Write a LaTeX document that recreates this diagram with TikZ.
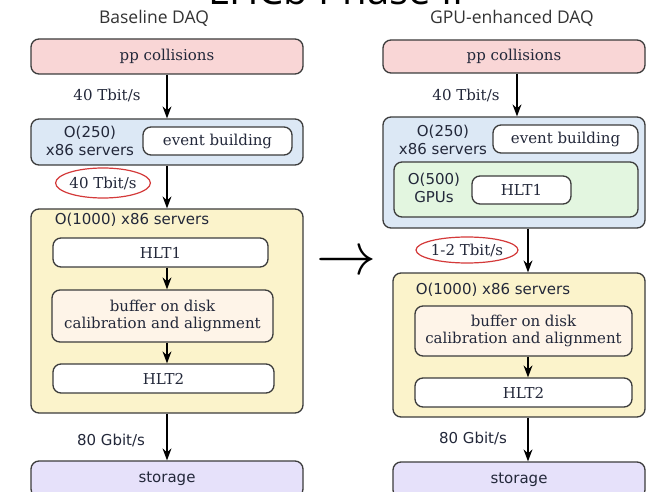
\documentclass[tikz,border=0pt]{standalone}
\usepackage{fontspec}
\usepackage{graphicx}
\usepackage{tikz}
\usetikzlibrary{arrows.meta,positioning,shapes.geometric}
\setmainfont{DejaVu Serif}
\newfontfamily\lblsans{DejaVu Sans}
\newfontfamily\headsans{Open Sans}
\definecolor{collPink}{RGB}{249,214,214}
\definecolor{srvBlue}{RGB}{220,232,245}
\definecolor{gpuGreen}{RGB}{227,246,224}
\definecolor{farmYellow}{RGB}{251,243,203}
\definecolor{bufCream}{RGB}{254,244,232}
\definecolor{storLilac}{RGB}{230,225,250}
\definecolor{edgeGray}{RGB}{60,60,60}
\definecolor{lblInk}{RGB}{35,40,58}
\definecolor{ringRed}{RGB}{212,58,58}

\begin{document}
\begin{tikzpicture}[x=1pt, y=-1pt,
    blk/.style={draw=edgeGray, line width=1.3pt, rounded corners=8pt, inner sep=0pt,
        text=lblInk, font=\fontsize{15}{17}\selectfont, align=center},
    srvlbl/.style={text=lblInk, font=\lblsans\fontsize{15}{18.5}\selectfont, align=center, inner sep=0pt},
    ratelbl/.style={text=lblInk, font=\fontsize{15}{17}\selectfont, inner sep=0pt},
    ring/.style={ellipse, draw=ringRed, line width=1.2pt, inner sep=0pt},
    flow/.style={black, line width=1.3pt, -{Stealth[length=12pt,width=9pt,inset=4pt]}},
    head/.style={text=black!80, font=\headsans\fontsize{17.5}{20}\selectfont}]
    \useasboundingbox (0,0) rectangle (646,492);
    \clip (0,0) rectangle (646,492);
    \fill[white] (0,0) rectangle (646,492);

    % titles
    \node[font=\headsans\fontsize{40}{40}\selectfont, anchor=base, inner sep=0pt] (title) at (336,5) {LHCb Phase II};
    \node[head] (hdBase) at (154,18) {Baseline DAQ};
    \node[head] (hdGpu) at (512,18) {GPU-enhanced DAQ};

    % arrow axes
    \coordinate (axL) at (167,0);
    \coordinate (axRtop) at (517,0);
    \coordinate (axR) at (528,0);

    % baseline DAQ
    \node[blk, fill=collPink, minimum width=272pt, minimum height=35pt] (ppL) at (167,56.5) {pp collisions};
    \node[blk, fill=srvBlue, minimum width=272pt, minimum height=46pt] (srvL) at (167,142) {};
    \node[srvlbl] (srvLtxt) at (90,141) {O(250)\\x86 servers};
    \node[blk, fill=white, minimum width=149pt, minimum height=28pt] (ebL) at (217.5,141) {event building};
    \node[blk, fill=farmYellow, minimum width=272pt, minimum height=204pt] (farmL) at (167,311) {};
    \node[srvlbl] (farmLtxt) at (132,220) {O(1000) x86 servers};
    \node[blk, fill=white, minimum width=215pt, minimum height=29pt] (hlt1L) at (160.5,252.5) {HLT1};
    \node[blk, fill=bufCream, minimum width=221pt, minimum height=52pt] (bufL) at (162.5,316) {buffer on disk\\calibration and alignment};
    \node[blk, fill=white, minimum width=221pt, minimum height=29pt] (hlt2L) at (163.5,378.5) {HLT2};
    \node[blk, fill=storLilac, minimum width=272pt, minimum height=36pt] (storL) at (167,479) {\lblsans storage};

    \draw[flow] (ppL.south -| axL) -- (srvL.north -| axL);
    \draw[flow] (srvL.south -| axL) -- (farmL.north -| axL);
    \draw[flow] (hlt1L.south -| axL) -- (bufL.north -| axL);
    \draw[flow] (bufL.south -| axL) -- (hlt2L.north -| axL);
    \draw[flow] (farmL.south -| axL) -- (storL.north -| axL);

    \node[ratelbl] (tbL) at (107,95) {40 Tbit/s};
    \node[ring, minimum width=90pt, minimum height=30pt, ratelbl] (rateL) at (103,183) {40 Tbit/s};
    \node[srvlbl] (gbL) at (111,440) {80 Gbit/s};

    % GPU-enhanced DAQ
    \node[blk, fill=collPink, minimum width=262pt, minimum height=33pt] (ppR) at (514,56.5) {pp collisions};
    \node[blk, fill=srvBlue, minimum width=262pt, minimum height=111pt] (srvR) at (514,172.5) {};
    \node[srvlbl] (srvRtxt) at (443,140) {O(250)\\x86 servers};
    \node[blk, fill=white, minimum width=145pt, minimum height=28pt] (ebR) at (565.5,139) {event building};
    \node[blk, fill=gpuGreen, minimum width=244pt, minimum height=55pt] (gpuR) at (516,189.5) {};
    \node[srvlbl] (gpuRtxt) at (434,188) {O(500)\\GPUs};
    \node[blk, fill=white, minimum width=99pt, minimum height=28pt] (hlt1R) at (521.5,190) {HLT1};
    \node[blk, fill=farmYellow, minimum width=252pt, minimum height=144pt] (farmR) at (519,345) {};
    \node[srvlbl] (farmRtxt) at (493,290) {O(1000) x86 servers};
    \node[blk, fill=bufCream, minimum width=217pt, minimum height=50pt] (bufR) at (523.5,331) {buffer on disk\\calibration and alignment};
    \node[blk, fill=white, minimum width=217pt, minimum height=29pt] (hlt2R) at (523.5,392.5) {HLT2};
    \node[blk, fill=storLilac, minimum width=252pt, minimum height=36pt] (storR) at (519,480) {\lblsans storage};

    \draw[flow] (ppR.south -| axRtop) -- (srvR.north -| axRtop);
    \draw[flow] (srvR.south -| axR) -- (farmR.north -| axR);
    \draw[flow] (bufR.south -| axR) -- (hlt2R.north -| axR);
    \draw[flow] (farmR.south -| axR) -- (storR.north -| axR);

    \node[ratelbl] (tbR) at (466,95) {40 Tbit/s};
    \node[ring, minimum width=91pt, minimum height=26pt, ratelbl] (rateR) at (467,250) {1-2 Tbit/s};
    \node[srvlbl] (gbR) at (473,438) {80 Gbit/s};

    % baseline -> GPU
    \node[inner sep=0pt] (goes) at (346,263) {\scalebox{6}{$\rightarrow$}};
\end{tikzpicture}
\end{document}
